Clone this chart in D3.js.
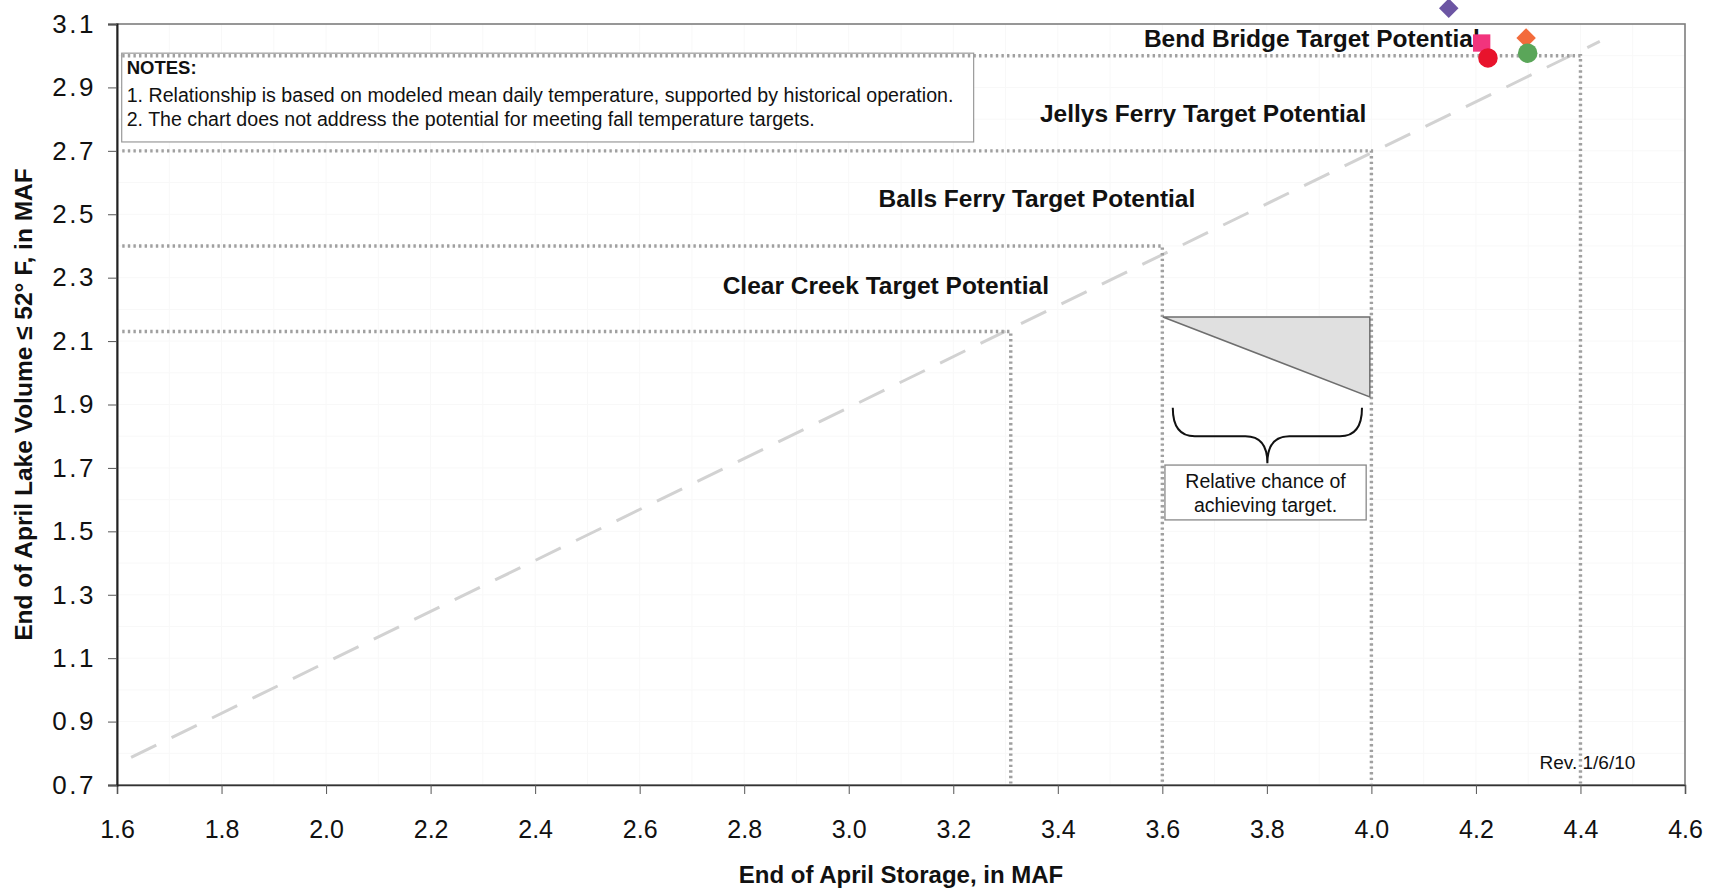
<!DOCTYPE html>
<html>
<head>
<meta charset="utf-8">
<script src="https://cdn.jsdelivr.net/npm/d3@7"></script>
<style>
  html, body { margin: 0; padding: 0; background: #fff; }
  svg { display: block; }
  text { font-family: "Liberation Sans", Arial, sans-serif; fill: #111; }
</style>
</head>
<body>
<svg id="chart" width="1709" height="890"></svg>
<script>
// ---------------- DATA ----------------
const xTickValues = [1.6, 1.8, 2.0, 2.2, 2.4, 2.6, 2.8, 3.0, 3.2, 3.4, 3.6, 3.8, 4.0, 4.2, 4.4, 4.6];
const yTickValues = [0.7, 0.9, 1.1, 1.3, 1.5, 1.7, 1.9, 2.1, 2.3, 2.5, 2.7, 2.9, 3.1];

// target potential thresholds (storage, lake volume)
const targetNames   = ["Clear Creek Target Potential", "Balls Ferry Target Potential", "Jellys Ferry Target Potential", "Bend Bridge Target Potential"];
const targetStorage = [3.31, 3.60, 4.00, 4.40];
const targetVolume  = [2.13, 2.40, 2.70, 3.00];
// label anchors (data units)
const targetLabelX  = [3.071, 3.360, 3.678, 3.886];
const targetLabelY  = [2.248, 2.523, 2.791, 3.027];

// relationship (dashed) line end points
const trendX = [1.627, 4.437];
const trendY = [0.787, 3.045];

// observed points
const pointX     = [4.148, 4.211, 4.223, 4.296, 4.299];
const pointY     = [3.150, 3.040, 2.993, 3.056, 3.008];
const pointShape = ["diamond", "square", "circle", "diamond", "circle"];

// relative-chance wedge
const wedgeX = [3.601, 3.997, 3.997];
const wedgeY = [2.176, 2.176, 1.924];

const notesLines = [
  "1. Relationship is based on modeled mean daily temperature, supported by historical operation.",
  "2. The chart does not address the potential for meeting fall temperature targets."
];

// ---------------- STYLE / LAYOUT ----------------
const pointColors = ["#6c55a3", "#f2347d", "#e8132c", "#f36b3b", "#5aa659"];
const W = 1709, H = 890;
const margin = { left: 117, right: 24, top: 24, bottom: 105 };
const svg = d3.select("#chart");

const x = d3.scaleLinear().domain([1.6, 4.6]).range([margin.left, W - margin.right]);
const y = d3.scaleLinear().domain([0.7, 3.1]).range([H - margin.bottom, margin.top]);

const x0 = x.range()[0], x1 = x.range()[1], yB = y.range()[0], yT = y.range()[1];

// very faint minor grid
const g = svg.append("g");
g.selectAll("line.gx").data(d3.range(17, 46).map(v => v / 10)).enter().append("line")
  .attr("x1", d => x(d)).attr("x2", d => x(d)).attr("y1", yT).attr("y2", yB)
  .attr("stroke", "#f8f8f8").attr("stroke-width", 1);
g.selectAll("line.gy").data(d3.range(8, 31).map(v => v / 10)).enter().append("line")
  .attr("y1", d => y(d)).attr("y2", d => y(d)).attr("x1", x0).attr("x2", x1)
  .attr("stroke", "#f8f8f8").attr("stroke-width", 1);

// plot border
svg.append("rect").attr("x", x0).attr("y", yT).attr("width", x1 - x0).attr("height", yB - yT)
  .attr("fill", "none").attr("stroke", "#7e7e7e").attr("stroke-width", 1.6);

// trend dashed line
svg.append("line")
  .attr("x1", x(trendX[0])).attr("y1", y(trendY[0]))
  .attr("x2", x(trendX[1])).attr("y2", y(trendY[1]))
  .attr("stroke", "#d2d2d2").attr("stroke-width", 3).attr("stroke-dasharray", "28,17");

// notes box
const nb = { x: x(1.609), y: y(3.008), w: x(3.239) - x(1.609), h: y(2.728) - y(3.008) };
svg.append("rect").attr("x", nb.x).attr("y", nb.y).attr("width", nb.w).attr("height", nb.h)
  .attr("fill", "#fff").attr("stroke", "#9a9a9a").attr("stroke-width", 1.2);
svg.append("text").attr("x", nb.x + 5).attr("y", nb.y + 21)
  .attr("font-size", 18.5).attr("font-weight", "bold").text("NOTES:");
notesLines.forEach((t, i) => {
  svg.append("text").attr("x", nb.x + 5).attr("y", nb.y + 49 + i * 24)
    .attr("font-size", 19.6).text(t);
});

// target threshold dotted lines
const dotted = svg.append("g").attr("fill", "none").attr("stroke", "#a0a0a0")
  .attr("stroke-width", 3.4).attr("stroke-dasharray", "2.4,3.2");
targetStorage.forEach((s, i) => {
  const v = targetVolume[i];
  dotted.append("path")
    .attr("d", d3.line()([[x(1.61), y(v)], [x(s), y(v)], [x(s), y(0.705)]]));
});

// wedge
svg.append("path")
  .attr("d", d3.line()(wedgeX.map((d, i) => [x(d), y(wedgeY[i])])) + "Z")
  .attr("fill", "#e0e0e0").attr("stroke", "#6e6e6e").attr("stroke-width", 1.5);

// brace
(function () {
  const bx0 = x(3.62), bx1 = x(3.982), bm = (bx0 + bx1) / 2;
  const by0 = y(1.89), by1 = y(1.80), by2 = y(1.715);
  const r = 22;
  const p = `M${bx0},${by0} Q${bx0},${by1} ${bx0 + r},${by1} L${bm - r},${by1} Q${bm},${by1} ${bm},${by2} ` +
            `Q${bm},${by1} ${bm + r},${by1} L${bx1 - r},${by1} Q${bx1},${by1} ${bx1},${by0}`;
  svg.append("path").attr("d", p).attr("fill", "none").attr("stroke", "#111").attr("stroke-width", 2);
})();

// relative chance box
const rb = { x: x(3.605), y: y(1.709), w: x(3.99) - x(3.605), h: y(1.536) - y(1.709) };
svg.append("rect").attr("x", rb.x).attr("y", rb.y).attr("width", rb.w).attr("height", rb.h)
  .attr("fill", "#fff").attr("stroke", "#888").attr("stroke-width", 1.3);
["Relative chance of", "achieving target."].forEach((t, i) => {
  svg.append("text").attr("x", rb.x + rb.w / 2).attr("y", rb.y + 23 + i * 24)
    .attr("text-anchor", "middle").attr("font-size", 19.5).text(t);
});

// target labels
targetNames.forEach((t, i) => {
  svg.append("text").attr("x", x(targetLabelX[i])).attr("y", y(targetLabelY[i]))
    .attr("text-anchor", "middle").attr("font-size", 24.5).attr("font-weight", "bold")
    .attr("fill", "#1a1a1a").text(t);
});

// rev text
svg.append("text").attr("x", x(4.505)).attr("y", y(0.752)).attr("text-anchor", "end")
  .attr("font-size", 19).text("Rev. 1/6/10");

// axes
const xAxis = d3.axisBottom(x).tickValues(xTickValues).tickFormat(d3.format(".1f")).tickSize(9).tickPadding(26);
const gx = svg.append("g").attr("transform", `translate(0,${yB})`).call(xAxis);
gx.select(".domain").attr("stroke", "#333").attr("stroke-width", 1.5);
gx.selectAll(".tick line").attr("stroke", "#555");
gx.selectAll(".tick text").attr("font-family", "Liberation Sans, Arial, sans-serif")
  .attr("font-size", 25).attr("fill", "#1a1a1a");

const yAxis = d3.axisLeft(y).tickValues(yTickValues).tickFormat(d3.format(".1f")).tickSize(9).tickPadding(12);
const gy = svg.append("g").attr("transform", `translate(${x0},0)`).call(yAxis);
gy.select(".domain").attr("stroke", "#222").attr("stroke-width", 2);
gy.selectAll(".tick line").attr("stroke", "#555");
gy.selectAll(".tick text").attr("font-family", "DejaVu Sans, Verdana, sans-serif")
  .attr("font-size", 26).attr("letter-spacing", 2.5).attr("fill", "#1a1a1a");

// axis titles
svg.append("text").attr("x", (x0 + x1) / 2).attr("y", 883).attr("text-anchor", "middle")
  .attr("font-size", 24).attr("font-weight", "bold").text("End of April Storage, in MAF");
svg.append("text").attr("transform", `translate(32,${(yT + yB) / 2}) rotate(-90)`)
  .attr("text-anchor", "middle").attr("font-size", 24.5).attr("font-weight", "bold")
  .text("End of April Lake Volume ≤ 52° F, in MAF");

// points
const pts = svg.append("g");
pointX.forEach((px, i) => {
  const cx = x(px), cy = y(pointY[i]);
  const shape = pointShape[i];
  const node = pts.append("path").attr("fill", pointColors[i]);
  if (shape === "diamond") {
    node.attr("d", d3.symbol().type(d3.symbolSquare).size(190)())
      .attr("transform", `translate(${cx},${cy}) rotate(45)`);
  } else if (shape === "square") {
    node.attr("d", d3.symbol().type(d3.symbolSquare).size(300)())
      .attr("transform", `translate(${cx},${cy})`);
  } else {
    node.attr("d", d3.symbol().type(d3.symbolCircle).size(300)())
      .attr("transform", `translate(${cx},${cy})`);
  }
});
</script>
</body>
</html>
